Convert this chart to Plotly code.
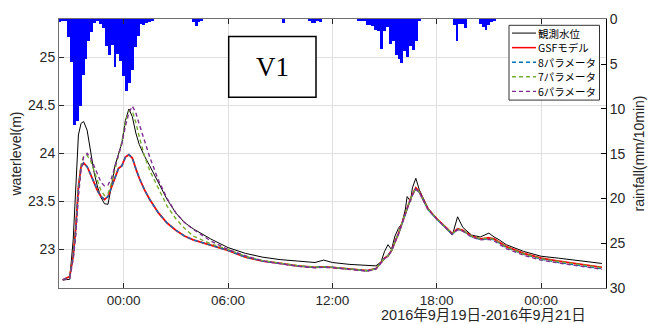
import pandas as pd
import plotly.graph_objects as go

# ---------------- data ----------------
# 10-minute rainfall (mm/10min) starting 2016-09-19 20:20
rain_start = "2016-09-19 20:20"
rain_mm = [
    0.3, 0.2, 0.1, 2.0, 4.7, 11.8, 11.3, 9.7, 6.2, 4.4, 2.4, 1.4,
    0.4, 0.2, 0.5, 1.0, 3.0, 4.0, 2.9, 5.3, 3.9, 4.6, 6.3, 8.0,
    7.1, 5.6, 3.1, 1.8, 0.5, 0.6, 0.4, 0.3, 0.2, 0, 0, 0,
    0, 0, 0, 0, 0, 0, 0, 0, 0, 0, 0.3, 0.7,
    0.3, 0.1, 0, 0, 0, 0, 0, 0, 0, 0, 0, 0,
    0, 0, 0, 0, 0, 0, 0, 0, 0, 0, 0, 0,
    0, 0, 0, 0, 0, 0.4, 0, 0, 0, 0, 0, 0,
    0, 0, 0.2, 0.4, 0.4, 0.1, 0.3, 0, 0, 0, 0, 0,
    0, 0, 0, 0, 0, 0, 0, 0.2, 0.1, 0.2, 0.6, 0.6,
    0.7, 1.2, 1.3, 3.3, 1.3, 0.8, 2.7, 2.4, 4.0, 4.4, 4.9, 3.5,
    4.2, 3.0, 3.4, 2.4, 0.1, 0, 0, 0, 0, 0, 0, 0,
    0, 0, 0, 0, 0.6, 2.4, 0.5, 0.5, 1.0, 0, 0, 0,
    0, 0.5, 0.8, 1.2, 0.6, 0.3, 0.1, 0, 0, 0, 0, 0,
    0, 0, 0, 0, 0, 0, 0, 0, 0, 0, 0, 0,
    0, 0, 0, 0, 0, 0, 0, 0, 0, 0, 0, 0,
    0, 0, 0, 0, 0, 0, 0, 0, 0,
]

# water level sample times: hours from 2016-09-20 00:00
hours = [
    -3.5, -3.1, -2.9, -2.75, -2.6, -2.45, -2.3, -2.1, -1.9, -1.7,
    -1.5, -1.3, -1.1, -0.9, -0.7, -0.5, -0.3, -0.1, 0.1, 0.3,
    0.5, 0.7, 0.9, 1.2, 1.5, 2.0, 2.5, 3.0, 3.5, 4.0,
    5.0, 6.0, 7.0, 8.0, 9.0, 10.0, 11.0, 11.5, 12.0, 13.0,
    14.0, 14.5, 14.8, 15.0, 15.2, 15.4, 15.6, 15.8, 16.0, 16.2,
    16.3, 16.4, 16.5, 16.6, 16.8, 17.0, 17.5, 18.0, 18.5, 18.9,
    19.2, 19.5, 20.0, 20.5, 21.0, 21.3, 21.6, 22.0, 23.0, 24.0,
    25.0, 26.0, 27.5,
]

obs = [
    22.684, 22.69, 23.10, 23.65, 24.19, 24.31, 24.33, 24.24, 24.00, 23.80,
    23.65, 23.54, 23.475, 23.47, 23.66, 23.87, 23.99, 24.11, 24.34, 24.46,
    24.38, 24.21, 24.09, 23.97, 23.87, 23.70, 23.52, 23.38, 23.28, 23.215,
    23.11, 23.02, 22.96, 22.92, 22.895, 22.88, 22.865, 22.89, 22.865, 22.845,
    22.83, 22.83, 22.87, 22.98, 23.05, 23.00, 23.14, 23.22, 23.27, 23.42,
    23.55, 23.53, 23.50, 23.64, 23.74, 23.62, 23.43, 23.32, 23.22, 23.15,
    23.34, 23.23, 23.15, 23.13, 23.17, 23.13, 23.10, 23.05, 22.98, 22.93,
    22.91, 22.89, 22.855,
]

gsf = [
    22.684, 22.72, 22.93, 23.23, 23.65, 23.86, 23.90, 23.86, 23.78, 23.70,
    23.61, 23.55, 23.52, 23.55, 23.65, 23.76, 23.84, 23.87, 23.96, 23.985,
    23.95, 23.84, 23.74, 23.62, 23.52, 23.38, 23.275, 23.20, 23.14, 23.10,
    23.045, 22.99, 22.92, 22.88, 22.855, 22.83, 22.815, 22.82, 22.815, 22.80,
    22.78, 22.80, 22.86, 22.91, 22.935, 22.99, 23.08, 23.165, 23.27, 23.38,
    23.43, 23.48, 23.53, 23.57, 23.64, 23.60, 23.42, 23.32, 23.23, 23.165,
    23.215, 23.20, 23.14, 23.11, 23.12, 23.11, 23.075, 23.03, 22.96, 22.91,
    22.88, 22.855, 22.815,
]

p8 = [
    22.684, 22.72, 22.93, 23.22, 23.64, 23.86, 23.90, 23.86, 23.78, 23.70,
    23.61, 23.55, 23.52, 23.55, 23.65, 23.76, 23.84, 23.87, 23.96, 23.985,
    23.95, 23.84, 23.74, 23.62, 23.52, 23.38, 23.275, 23.20, 23.14, 23.10,
    23.045, 22.99, 22.92, 22.88, 22.855, 22.83, 22.815, 22.82, 22.815, 22.80,
    22.78, 22.80, 22.86, 22.91, 22.935, 22.99, 23.08, 23.16, 23.265, 23.375,
    23.425, 23.475, 23.525, 23.565, 23.635, 23.595, 23.415, 23.315, 23.225, 23.16,
    23.21, 23.195, 23.135, 23.105, 23.11, 23.10, 23.065, 23.02, 22.95, 22.90,
    22.865, 22.84, 22.80,
]

p7 = [
    22.684, 22.70, 22.92, 23.20, 23.60, 23.88, 23.97, 23.98, 23.92, 23.82,
    23.71, 23.61, 23.56, 23.58, 23.69, 23.84, 23.97, 24.12, 24.33, 24.44,
    24.44, 24.32, 24.17, 23.97, 23.82, 23.63, 23.45, 23.32, 23.22, 23.14,
    23.06, 23.00, 22.93, 22.885, 22.858, 22.833, 22.817, 22.82, 22.815, 22.80,
    22.78, 22.80, 22.86, 22.91, 22.935, 22.99, 23.08, 23.16, 23.27, 23.38,
    23.43, 23.48, 23.53, 23.57, 23.63, 23.60, 23.42, 23.32, 23.23, 23.165,
    23.21, 23.20, 23.14, 23.11, 23.115, 23.105, 23.07, 23.025, 22.955, 22.905,
    22.875, 22.85, 22.81,
]

p6 = [
    22.684, 22.70, 22.90, 23.15, 23.55, 23.83, 23.96, 24.00, 23.95, 23.86,
    23.77, 23.70, 23.66, 23.67, 23.74, 23.86, 23.98, 24.10, 24.28, 24.42,
    24.49, 24.42, 24.30, 24.12, 23.96, 23.72, 23.53, 23.38, 23.28, 23.21,
    23.09, 23.00, 22.935, 22.88, 22.85, 22.825, 22.81, 22.815, 22.81, 22.795,
    22.775, 22.795, 22.855, 22.905, 22.93, 22.985, 23.075, 23.16, 23.265, 23.375,
    23.425, 23.475, 23.525, 23.565, 23.625, 23.595, 23.415, 23.315, 23.225, 23.16,
    23.205, 23.19, 23.13, 23.10, 23.105, 23.09, 23.055, 23.01, 22.94, 22.89,
    22.86, 22.835, 22.795,
]

series_names = ["観測水位", "GSFモデル", "8パラメータ", "7パラメータ", "6パラメータ"]
level_ticks = [23, 23.5, 24, 24.5, 25]
rain_ticks = [0, 5, 10, 15, 20, 25, 30]

# ---------------- figure ----------------
W, H = 659, 324
ML, MR, MT, MB = 59, 53, 11, 36
PW, PH = W - ML - MR, H - MT - MB


def px(x):
    return (x - ML) / PW


def py(y):
    return 1 - (y - MT) / PH


base = pd.Timestamp("2016-09-20 00:00")
t = [base + pd.Timedelta(hours=h) for h in hours]
rain_t = pd.date_range(rain_start, periods=len(rain_mm), freq="10min")

FONT = "Liberation Sans, Noto Sans CJK JP"
CJK = "Noto Sans CJK JP"
fig = go.Figure()

fig.add_trace(go.Bar(
    x=rain_t, y=rain_mm, yaxis="y2", width=600000,
    marker=dict(color="#0000FF", line=dict(width=0)),
    showlegend=False, hoverinfo="skip",
))

styles = [
    dict(color="#000000", width=1.0, dash="solid"),
    dict(color="#FF0000", width=1.8, dash="solid"),
    dict(color="#0072BD", width=1.4, dash="4px,3px"),
    dict(color="#77AC30", width=1.4, dash="4px,3px"),
    dict(color="#7E2F8E", width=1.4, dash="4px,3px"),
]
for name, vals, st in zip(series_names, [obs, gsf, p8, p7, p6], styles):
    fig.add_trace(go.Scatter(x=t, y=vals, mode="lines", name=name, line=st,
                             showlegend=False))

axis_col = "#262626"

# legend box (drawn as shapes + text)
shapes = [dict(type="rect", xref="paper", yref="paper",
               x0=px(509), x1=px(599.5), y0=py(94.5), y1=py(17.5),
               line=dict(color="#333333", width=1), fillcolor="white",
               layer="above")]
annotations = []
for k, (name, st) in enumerate(zip(series_names, styles)):
    yc = py(25.5 + 15 * k)
    shapes.append(dict(type="line", xref="paper", yref="paper",
                       x0=px(512), x1=px(536), y0=yc, y1=yc, layer="above",
                       line=dict(color=st["color"], width=min(st["width"], 1.5),
                                 dash=st["dash"])))
    annotations.append(dict(text=name, xref="paper", yref="paper",
                            x=px(537), y=yc, xanchor="left", yanchor="middle",
                            showarrow=False, borderpad=0,
                            font=dict(family=CJK, size=10.5, color="#000000")))

# V1 box
shapes.append(dict(type="rect", xref="paper", yref="paper",
                   x0=px(228.7), x1=px(316), y0=py(91.7), y1=py(29),
                   line=dict(color="black", width=1.5), fillcolor="white",
                   layer="above"))
annotations.append(dict(text="V1", xref="paper", yref="paper",
                        x=px(272.3), y=py(60.5), xanchor="center",
                        yanchor="middle", showarrow=False,
                        font=dict(family="Liberation Serif", size=27,
                                  color="black")))
annotations.append(dict(text="2016年9月19日-2016年9月21日", xref="paper",
                        yref="paper", x=px(483.5), y=py(316.3),
                        xanchor="center", yanchor="middle", showarrow=False,
                        borderpad=0,
                        font=dict(family=FONT, size=14.5, color=axis_col)))

fig.update_layout(
    width=W, height=H,
    margin=dict(l=ML, r=MR, t=MT, b=MB),
    paper_bgcolor="white", plot_bgcolor="white",
    bargap=0, showlegend=False,
    font=dict(family=FONT, size=14, color=axis_col),
    xaxis=dict(
        type="date",
        range=["2016-09-19 20:17", "2016-09-21 03:44"],
        tick0="2016-09-20 00:00", dtick=6 * 3600 * 1000, tickformat="%H:%M",
        ticks="inside", ticklen=5, tickcolor=axis_col,
        showline=True, linecolor="#707070", linewidth=1, mirror="ticks",
        showgrid=True, gridcolor="#e0e0e0", gridwidth=1, zeroline=False,
        tickfont=dict(size=13.5), ticklabelstandoff=0,
    ),
    yaxis=dict(
        range=[22.6, 25.395],
        tickvals=level_ticks, ticktext=[f"{v:g}" for v in level_ticks],
        ticks="inside", ticklen=5, tickcolor=axis_col,
        showline=True, linecolor="#707070", linewidth=1,
        showgrid=True, gridcolor="#e0e0e0", gridwidth=1, zeroline=False,
        title=dict(text="waterlevel(m)", standoff=3, font=dict(size=14)),
        tickfont=dict(size=14),
    ),
    yaxis2=dict(
        overlaying="y", side="right", range=[30, -0.05],
        tickvals=rain_ticks, ticktext=[str(v) for v in rain_ticks],
        ticks="inside", ticklen=5, tickcolor="#000000",
        showline=True, linecolor="#000000", linewidth=1,
        showgrid=False, zeroline=False,
        title=dict(text="rainfall(mm/10min)", standoff=9, font=dict(size=14)),
        tickfont=dict(size=14),
    ),
    shapes=shapes,
    annotations=annotations,
)

fig.write_html("out.html", config={"displayModeBar": False},
               post_script="document.body.style.margin='0';")
